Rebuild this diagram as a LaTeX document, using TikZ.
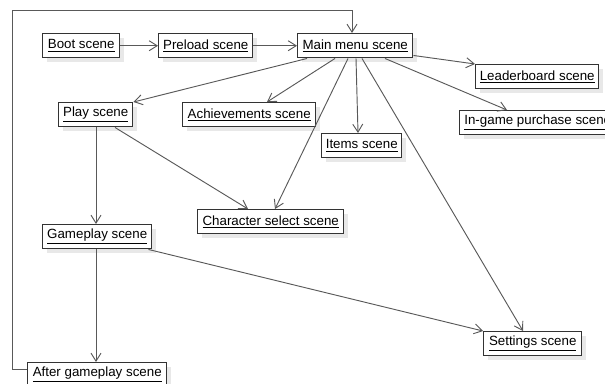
\documentclass[tikz,border=0pt]{standalone}
\usepackage{fontspec}
\setmainfont{Liberation Sans}
\usetikzlibrary{arrows.meta,calc,shadows}
\begin{document}
\begin{tikzpicture}[x=0.75pt,y=-0.75pt,
  box/.style={draw=black!80, line width=1.1pt, fill=white, anchor=north west,
    inner sep=0pt, minimum height=18pt, font=\fontsize{10}{12}\selectfont,
    drop shadow={shadow xshift=3.5pt, shadow yshift=-3.5pt, fill=black!9, opacity=1}},
  conn/.style={draw=black!65, line width=0.7pt, -{Straight Barb[length=6pt,width=7.5pt]}}]
\useasboundingbox (0,0) rectangle (605,383);
\begin{scope}
\clip (0,0) rectangle (605,383);
\node[box, minimum width=57.75pt] (boot) at (42,33) {\underline{Boot scene}};
\node[box, minimum width=70.5pt] (preload) at (158,33) {\underline{Preload scene}};
\node[box, minimum width=86.25pt] (main) at (297,33) {\underline{Main menu scene}};
\node[box, minimum width=55.5pt] (play) at (58,102) {\underline{Play scene}};
\node[box, minimum width=99.75pt] (ach) at (182,102) {\underline{Achievements scene}};
\node[box, minimum width=92.25pt] (lead) at (475,64) {\underline{Leaderboard scene}};
\node[box, minimum width=117pt] (ingame) at (459,110) {\underline{In-game purchase scene}};
\node[box, minimum width=60pt] (items) at (321,133) {\underline{Items scene}};
\node[box, minimum width=109.5pt] (char) at (197,209) {\underline{Character select scene}};
\node[box, minimum width=81.75pt] (game) at (42,224) {\underline{Gameplay scene}};
\node[box, minimum width=73.5pt] (set) at (483,331) {\underline{Settings scene}};
\node[box, minimum width=104.25pt] (after) at (27,362) {\underline{After gameplay scene}};
\end{scope}
\coordinate (loopL) at (12,10);
\draw[conn] (boot.east) -- (preload.west);
\draw[conn] (preload.east) -- (main.west);
\draw[conn] ($(main.south west)+(10,0)$) -- (play.north east);
\draw[conn] ($(main.south west)+(38,0)$) -- ($(ach.north west)+(85,0)$);
\draw[conn] ($(main.south west)+(51,0)$) -- ($(char.north west)+(78,0)$);
\draw[conn] ($(main.south west)+(59,0)$) -- ($(items.north west)+(37,0)$);
\draw[conn] ($(main.south west)+(65,0)$) -- ($(set.north west)+(40,0)$);
\draw[conn] ($(main.south west)+(88,0)$) -- ($(ingame.north west)+(48,0)$);
\draw[conn] ($(main.south east)+(0,-3)$) -- (lead.north west);
\draw[conn] ($(play.south west)+(38,0)$) -- ($(game.north west)+(54,0)$);
\draw[conn] ($(play.south west)+(57,0)$) -- ($(char.north west)+(51,0)$);
\draw[conn] ($(game.south east)+(-4,0)$) -- (set.north west);
\draw[conn] ($(game.south west)+(54,0)$) -- ($(after.north west)+(69,0)$);
\draw[conn] ($(after.north west)+(0,7)$) -| (loopL) -| ($(main.north west)+(55,0)$);
\end{tikzpicture}
\end{document}
